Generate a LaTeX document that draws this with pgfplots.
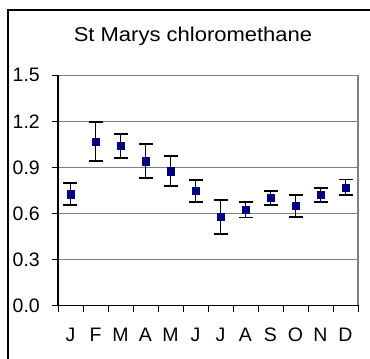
\documentclass[border=0pt]{standalone}
\usepackage{fontspec}
\setmainfont{Liberation Sans}
\newfontfamily\titlefont[FakeStretch=1.1]{Liberation Sans}
\usepackage{pgfplots}
\pgfplotsset{compat=1.18}
\begin{document}
\begin{tikzpicture}
\useasboundingbox (0pt,0pt) rectangle (370pt,359pt);
\fill[white] (0pt,0pt) rectangle (370pt,359pt);
\draw[black, line width=1.3pt] (8pt,0pt) -- (8pt,349pt) -- (370pt,349pt);
\node[font=\titlefont\fontsize{20}{24}\selectfont] at (193pt,323pt) {St Marys chloromethane};
\begin{axis}[
  at={(58pt,53.5pt)}, anchor=origin,
  scale only axis, width=300pt, height=230.2pt,
  xmin=0.5, xmax=12.5, ymin=0, ymax=1.5,
  axis x line*=bottom, axis y line*=left,
  axis line style={-, black, line width=1.3pt},
  xtick={0.5,1.5,...,12.5},
  xticklabels={J,F,M,A,M,J,J,A,S,O,N,D},
  x tick label as interval,
  ytick={0,0.3,...,1.5},
  tick align=outside, major tick length=6pt,
  tick style={black, line width=1pt},
  ymajorgrids, grid style={gray, line width=1.2pt},
  /pgf/number format/.cd, fixed, precision=1, fixed zerofill, assume math mode=true,
  /pgfplots/.cd,
  ticklabel style={font=\fontsize{19.5}{22}\selectfont},
  yticklabel style={anchor=east, inner sep=0pt, xshift=-12pt},
  xticklabel style={anchor=north, inner sep=0pt, yshift=-16pt},
  clip=false,
]
\draw[gray, line width=1.5pt] (axis cs:12.5,0) -- (axis cs:12.5,1.5);
\addplot[only marks, mark=square*, mark size=3.6pt,
  mark options={draw={rgb,255:red,0;green,0;blue,128}, fill={rgb,255:red,0;green,0;blue,128}},
  error bars/.cd, y dir=both, y explicit,
  error bar style={black, line width=1.8pt},
  error mark options={rotate=90, mark size=7pt, black, line width=1.8pt}]
coordinates {
(1,0.725) +- (0,0.072)
(2,1.067) +- (0,0.128)
(3,1.040) +- (0,0.078)
(4,0.940) +- (0,0.110)
(5,0.875) +- (0,0.098)
(6,0.746) +- (0,0.071)
(7,0.577) +- (0,0.110)
(8,0.625) +- (0,0.051)
(9,0.700) +- (0,0.045)
(10,0.648) +- (0,0.072)
(11,0.720) +- (0,0.045)
(12,0.770) +- (0,0.051)
};
\end{axis}
\end{tikzpicture}
\end{document}
